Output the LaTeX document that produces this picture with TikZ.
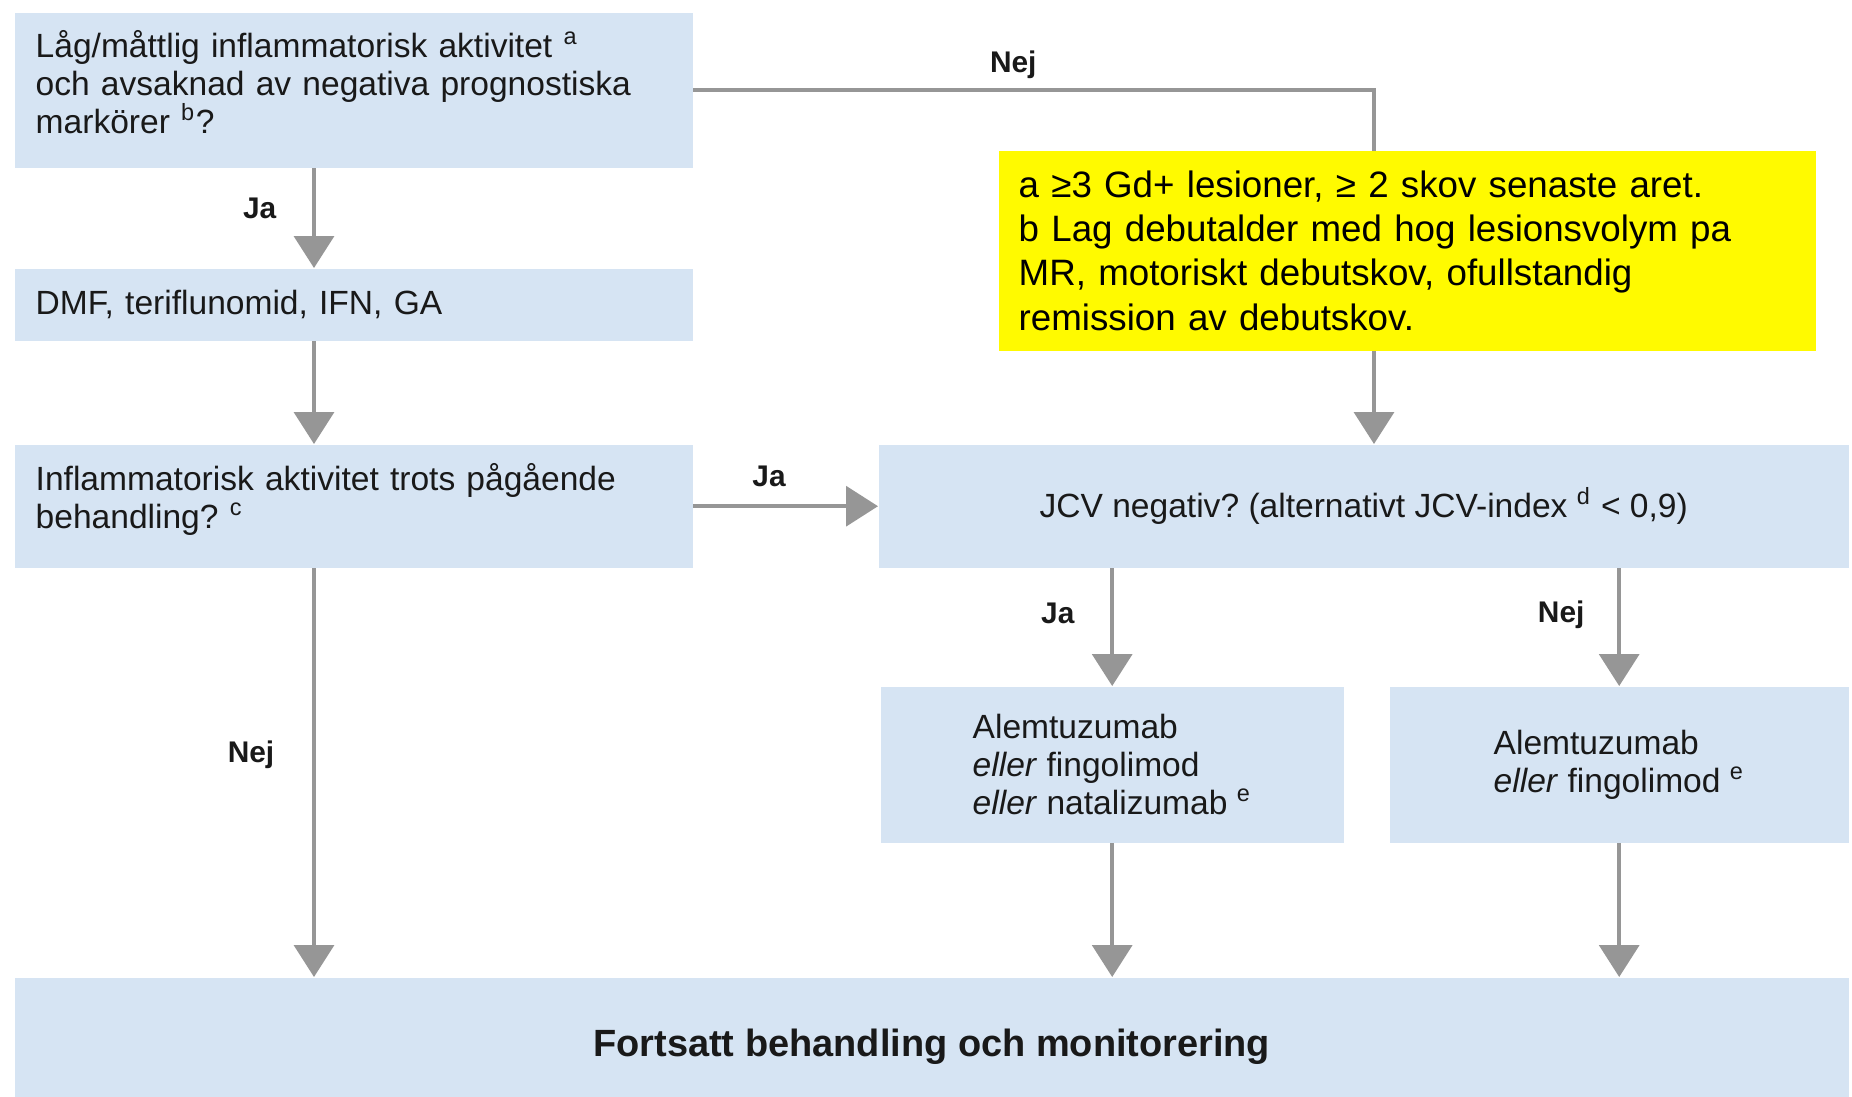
\documentclass[tikz,border=0pt]{standalone}
\usepackage{fontspec}
\setmainfont{Liberation Sans}
\usetikzlibrary{positioning,arrows.meta}
\definecolor{boxblue}{RGB}{214,228,243}
\definecolor{linegray}{RGB}{150,150,150}
\definecolor{noteyellow}{RGB}{255,250,0}
\frenchspacing

\begin{document}
\begin{tikzpicture}[
        box/.style={fill=boxblue, anchor=north west, inner xsep=0.21cm, inner ysep=0pt, text=black!90, font=\fontsize{9.55}{10.8}\selectfont},
        qbox/.style={box, align=left, text width=6.36cm},
        drug/.style={box, align=left, minimum height=1.56cm},
        note/.style={fill=noteyellow, anchor=north west, align=left, text width=7.77cm, minimum height=2.0cm, inner xsep=0.2cm, inner ysep=0pt, font=\fontsize{10.45}{12.6}\selectfont},
        lab/.style={inner sep=0pt, text=black!90, font=\fontsize{8.5}{10}\selectfont\bfseries},
        link/.style={-{Triangle[width=0.4cm,length=0.32cm]}, draw=linegray, line width=1pt}
    ]
        \useasboundingbox (0,0) rectangle (18.52,-10.96);

        \node[qbox, minimum height=1.55cm, text depth=0.93cm] (start) at (0.14,-0.12) {
            Låg/måttlig inflammatorisk aktivitet \textsuperscript{a}\\
            och avsaknad av negativa prognostiska\\
            markörer \textsuperscript{b}?
        };

        \node[qbox, minimum height=0.72cm] (dmf) at (0.14,-2.68) {DMF, teriflunomid, IFN, GA};

        \node[qbox, minimum height=1.23cm, text depth=0.59cm] (activity) at (0.14,-4.44) {
            Inflammatorisk aktivitet trots pågående\\
            behandling? \textsuperscript{c}
        };

        \node[box, minimum width=9.70cm, minimum height=1.23cm] (jcv) at (8.78,-4.44) {
            JCV negativ? (alternativt JCV-index \textsuperscript{d} < 0,9)
        };

        \node[drug, minimum width=4.63cm, inner xsep=0.32cm] (jcvneg) at (8.80,-6.86) {
            Alemtuzumab\\
            \textit{eller} fingolimod\\
            \textit{eller} natalizumab \textsuperscript{e}
        };

        \node[drug, minimum width=4.59cm, inner xsep=0.32cm] (jcvpos) at (13.89,-6.86) {
            Alemtuzumab\\
            \textit{eller} fingolimod \textsuperscript{e}
        };

        \node[box, minimum width=18.34cm, minimum height=1.19cm, text height=0.47cm, text depth=0.08cm, font=\fontsize{10.8}{12}\selectfont\bfseries] (follow) at (0.14,-9.77) {
            Fortsatt behandling och monitorering
        };

        \coordinate (lx) at (3.14,0);
        \coordinate (rx) at (13.74,0);

        \draw[link] (start.south -| lx) -- node[lab, pos=0.4, left=0.36cm] (ja1) {Ja} (dmf.north -| lx);
        \draw[link] (dmf.south -| lx) -- (activity.north -| lx);
        \draw[link] (activity.south -| lx) -- node[lab, pos=0.456, left=0.38cm] (nej1) {Nej} (follow.north -| lx);
        \draw[link] (activity.east) -- node[lab, pos=0.41, above=0.18cm] (ja2) {Ja} (jcv.west);
        \draw[link] (start.east) -| node[lab, pos=0.235, above=0.1cm] (nej2) {Nej} (jcv.north -| rx);
        \draw[link] (jcv.south -| jcvneg.north) -- node[lab, pos=0.38, left=0.36cm] (ja3) {Ja} (jcvneg.north);
        \draw[link] (jcv.south -| jcvpos.north) -- node[lab, pos=0.39, left=0.33cm] (nej3) {Nej} (jcvpos.north);
        \draw[link] (jcvneg.south) -- (jcvneg.south |- follow.north);
        \draw[link] (jcvpos.south) -- (jcvpos.south |- follow.north);

        \node[note] (footnote) at (9.98,-1.50) {
            a ≥3 Gd+ lesioner, ≥ 2 skov senaste aret.\\
            b Lag debutalder med hog lesionsvolym pa\\
            MR, motoriskt debutskov, ofullstandig\\
            remission av debutskov.
        };
    \end{tikzpicture}
\end{document}
